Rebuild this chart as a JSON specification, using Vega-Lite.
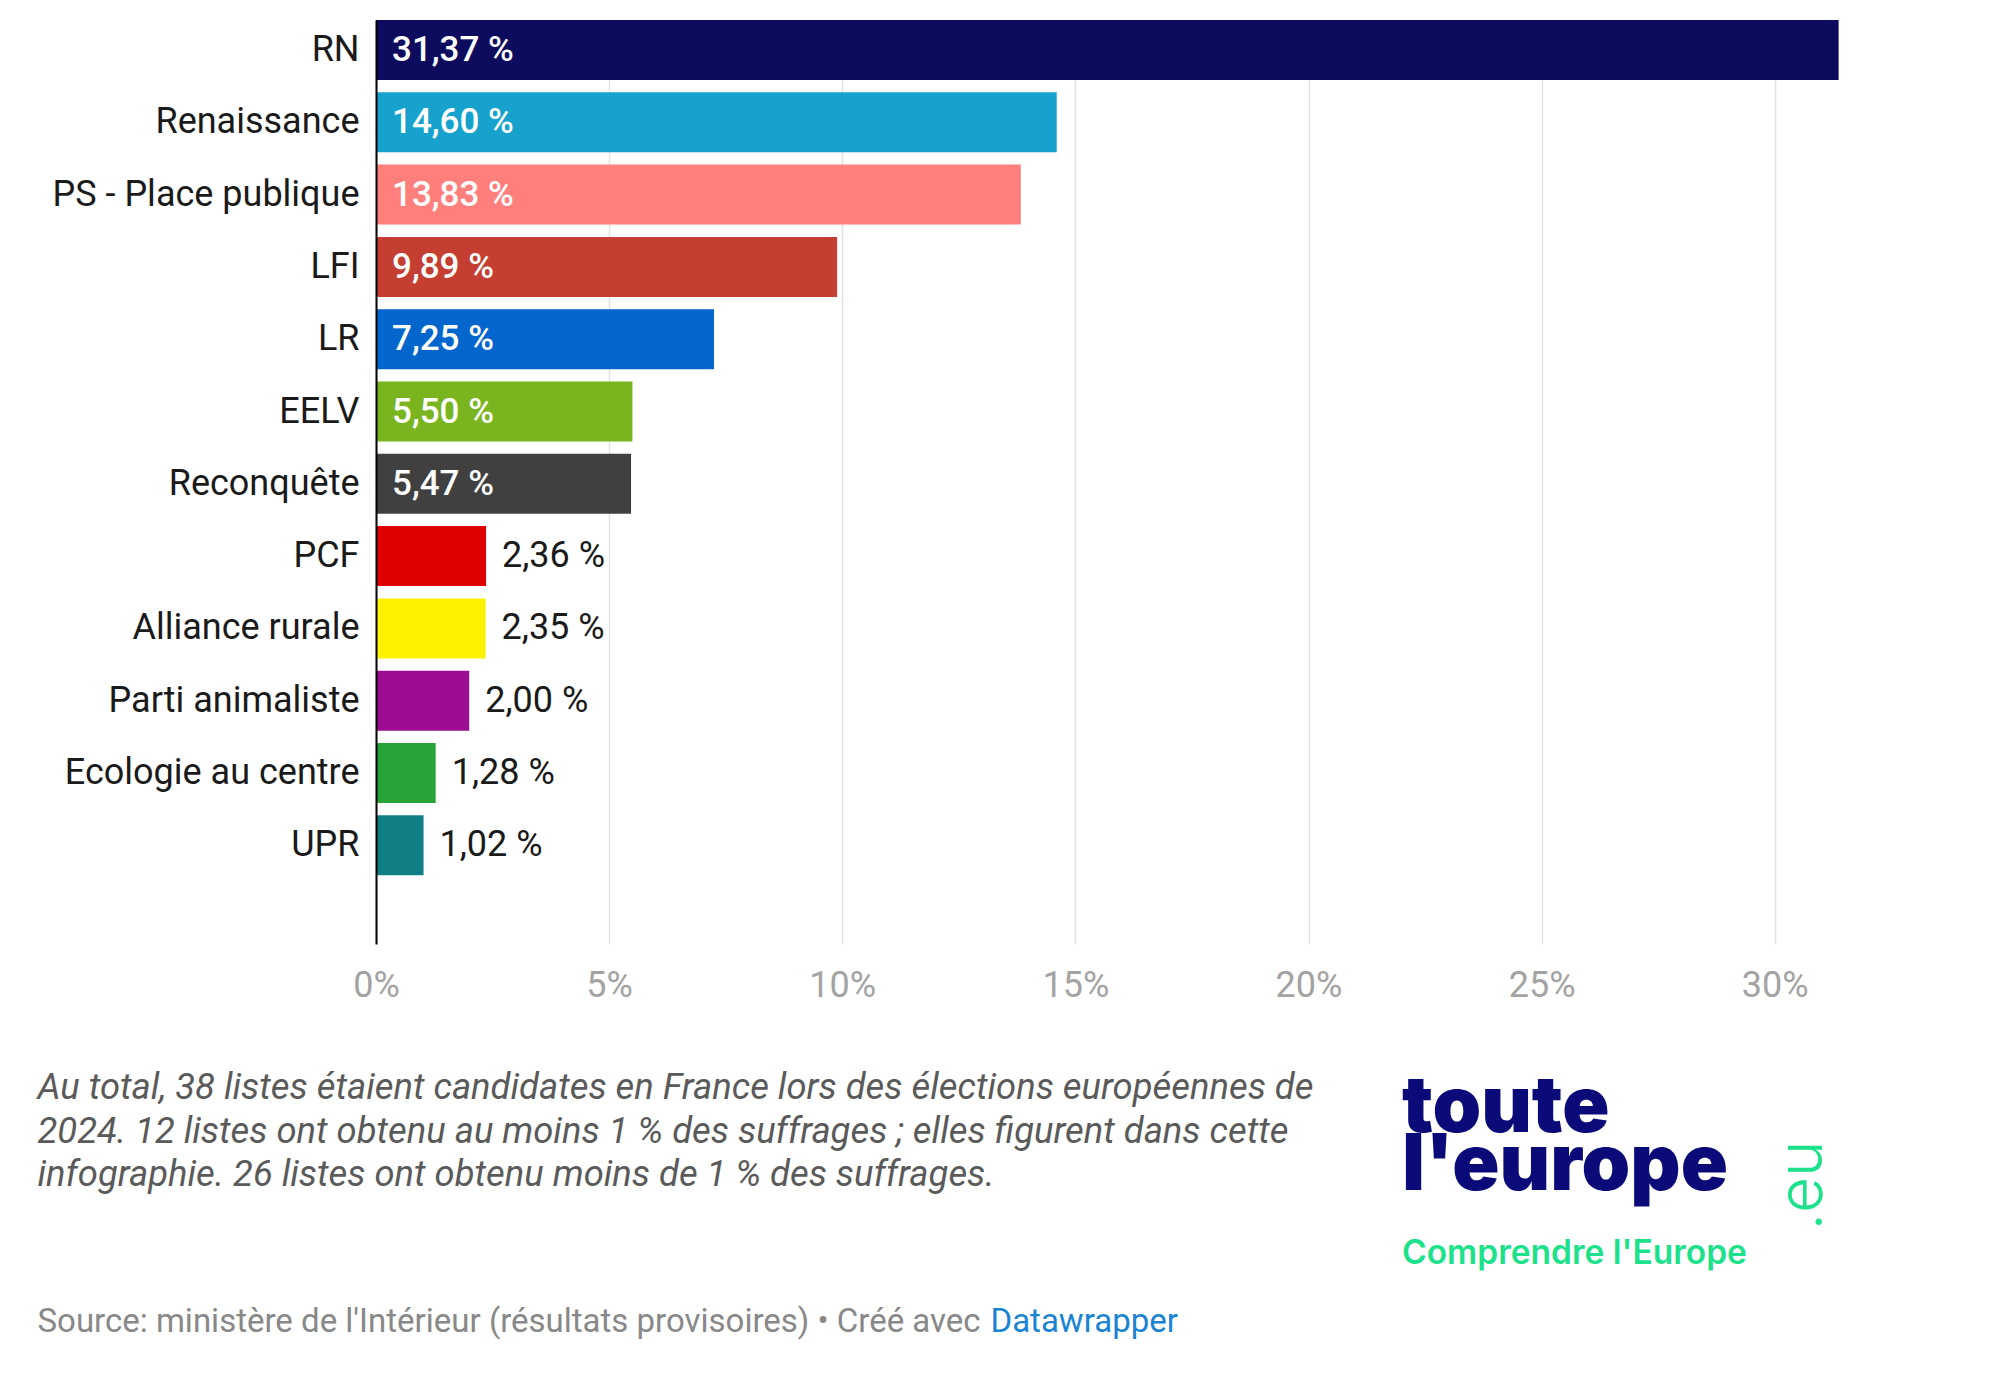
{
  "$schema": "https://vega.github.io/schema/vega-lite/v6.json",
  "width": 1492,
  "height": 924,
  "autosize": {"type": "none"},
  "padding": {"left": 376, "top": 20, "right": 132, "bottom": 433},
  "background": "white",
  "config": {"view": {"stroke": null}, "font": "Roboto"},
  "title": {
    "text": ["toute", "l'europe"],
    "subtitle": "Comprendre l'Europe",
    "orient": "top",
    "anchor": "start",
    "frame": "group",
    "offset": 0,
    "dx": 1026,
    "dy": 1250,
    "font": "Inter",
    "fontWeight": 900,
    "fontSize": 78,
    "lineHeight": 58,
    "color": "#0a0a78",
    "subtitleFont": "Inter",
    "subtitleFontWeight": 600,
    "subtitleFontSize": 33.5,
    "subtitleColor": "#1de28b",
    "subtitlePadding": 32
  },
  "data": {
    "values": [
      {"party": "RN", "value": 31.37, "label": "31,37 %"},
      {"party": "Renaissance", "value": 14.60, "label": "14,60 %"},
      {"party": "PS - Place publique", "value": 13.83, "label": "13,83 %"},
      {"party": "LFI", "value": 9.89, "label": "9,89 %"},
      {"party": "LR", "value": 7.25, "label": "7,25 %"},
      {"party": "EELV", "value": 5.50, "label": "5,50 %"},
      {"party": "Reconquête", "value": 5.47, "label": "5,47 %"},
      {"party": "PCF", "value": 2.36, "label": "2,36 %"},
      {"party": "Alliance rurale", "value": 2.35, "label": "2,35 %"},
      {"party": "Parti animaliste", "value": 2.00, "label": "2,00 %"},
      {"party": "Ecologie au centre", "value": 1.28, "label": "1,28 %"},
      {"party": "UPR", "value": 1.02, "label": "1,02 %"}
    ]
  },
  "resolve": {"axis": {"x": "independent", "y": "independent"}},
  "layer": [
    {
      "mark": {"type": "bar"},
      "encoding": {
        "y": {
          "field": "party", "type": "nominal", "sort": null,
          "scale": {"paddingInner": 0.17, "paddingOuter": 0.475, "align": 0},
          "axis": {
            "zindex": 1,
            "domain": true, "domainColor": "#000000", "domainWidth": 2,
            "ticks": false, "grid": false,
            "labelFontSize": 36, "labelColor": "#1a1a1a", "labelPadding": 17, "labelFont": "Roboto", "labelLimit": 0,
            "title": "Source: ministère de l'Intérieur (résultats provisoires) • Créé avec",
            "titleAngle": 0, "titleX": -339, "titleY": 1311,
            "titleAlign": "left", "titleBaseline": "alphabetic",
            "titleFont": "Roboto", "titleFontSize": 33, "titleFontWeight": "normal", "titleColor": "#888888"
          }
        },
        "x": {
          "field": "value", "type": "quantitative",
          "scale": {"domain": [0, 32], "nice": false},
          "axis": {
            "zindex": 0,
            "values": [0, 5, 10, 15, 20, 25, 30],
            "labelExpr": "datum.value + '%'",
            "labelFlush": false,
            "domain": false, "ticks": false,
            "grid": true, "gridColor": "#e2e2e2", "gridWidth": 1.5,
            "labelFontSize": 36, "labelColor": "#a3a3a3", "labelPadding": 24, "labelFont": "Roboto",
            "title": [
              "Au total, 38 listes étaient candidates en France lors des élections européennes de",
              "2024. 12 listes ont obtenu au moins 1 % des suffrages ; elles figurent dans cette",
              "infographie. 26 listes ont obtenu moins de 1 % des suffrages."
            ],
            "titleX": -339, "titleY": 154.5,
            "titleAlign": "left", "titleBaseline": "alphabetic",
            "titleFont": "Roboto", "titleFontSize": 36.4, "titleFontStyle": "italic", "titleFontWeight": "normal",
            "titleColor": "#5a5a5a", "titleLineHeight": 43.5
          }
        },
        "color": {
          "field": "party", "type": "nominal", "legend": null,
          "scale": {
            "domain": ["RN", "Renaissance", "PS - Place publique", "LFI", "LR", "EELV", "Reconquête", "PCF", "Alliance rurale", "Parti animaliste", "Ecologie au centre", "UPR"],
            "range": ["#0d0b5e", "#16a2cc", "#ff7f7c", "#c43f31", "#0366cc", "#7ab520", "#404040", "#df0000", "#fff200", "#9c0d92", "#27a33a", "#107f85"]
          }
        }
      }
    },
    {
      "transform": [{"filter": "datum.value >= 5"}],
      "mark": {"type": "text", "align": "left", "baseline": "middle", "dx": 16, "fontSize": 35, "fontWeight": 500, "color": "#ffffff", "font": "Roboto"},
      "encoding": {
        "y": {"field": "party", "type": "nominal", "sort": null, "axis": null},
        "x": {"datum": 0, "type": "quantitative", "axis": null},
        "text": {"field": "label"}
      }
    },
    {
      "transform": [{"filter": "datum.value < 5"}],
      "mark": {"type": "text", "align": "left", "baseline": "middle", "dx": 16, "fontSize": 36, "color": "#1a1a1a", "font": "Roboto"},
      "encoding": {
        "y": {
          "field": "party", "type": "nominal", "sort": null,
          "axis": {
            "orient": "right", "labels": false, "ticks": false, "domain": false, "grid": false,
            "title": ".eu", "titleAngle": 270, "titleX": -66, "titleY": 1165,
            "titleAlign": "center", "titleBaseline": "middle",
            "titleFont": "Inter", "titleFontSize": 62, "titleFontWeight": 300, "titleColor": "#1de28b"
          }
        },
        "x": {
          "field": "value", "type": "quantitative",
          "axis": {
            "orient": "top", "labels": false, "ticks": false, "domain": false, "grid": false,
            "title": "Datawrapper", "titleX": 614, "titleY": 1311,
            "titleAlign": "left", "titleBaseline": "alphabetic",
            "titleFont": "Roboto", "titleFontSize": 33, "titleFontWeight": "normal", "titleColor": "#1a84d2"
          }
        },
        "text": {"field": "label"}
      }
    }
  ]
}
